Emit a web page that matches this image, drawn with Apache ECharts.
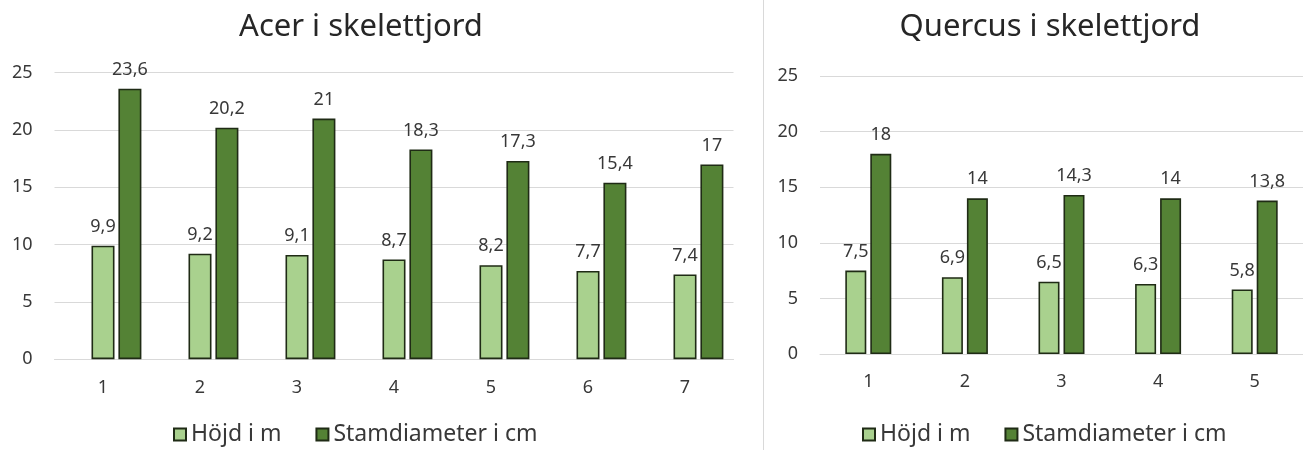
<!DOCTYPE html>
<html>
<head>
<meta charset="utf-8">
<script src="https://cdn.jsdelivr.net/npm/echarts@6/dist/echarts.min.js"></script>
<style>
    html, body { margin: 0; padding: 0; background: #fff; }
    #main { width: 1303px; height: 450px; }
</style>
</head>
<body>
<div id="main"></div>
<script>
// Acer i skelettjord
var acerCats = ['1', '2', '3', '4', '5', '6', '7'];
var acerHojd = [9.9, 9.2, 9.1, 8.7, 8.2, 7.7, 7.4];
var acerStam = [23.6, 20.2, 21, 18.3, 17.3, 15.4, 17];

// Quercus i skelettjord
var quercusCats = ['1', '2', '3', '4', '5'];
var quercusHojd = [7.5, 6.9, 6.5, 6.3, 5.8];
var quercusStam = [18, 14, 14.3, 14, 13.8];

var yTicks = { min: 0, max: 25, interval: 5 };
var seriesNames = ['Höjd i m', 'Stamdiameter i cm'];

var FONT = '"Noto Sans", sans-serif';
var lightGreen = '#a9d18e';
var darkGreen = '#548235';
var barBorder = '#1f2b15';
var gridColor = '#d9d9d9';
var textColor = '#383838';

function comma(p) {
    return String(p.value).replace('.', ',');
}

function barSeries(name, data, color, idx, width, gap) {
    return {
        name: name,
        type: 'bar',
        xAxisIndex: idx,
        yAxisIndex: idx,
        data: data,
        barWidth: width,
        barGap: gap,
        itemStyle: { color: color, borderColor: barBorder, borderWidth: 1.6 },
        label: {
            show: true,
            position: 'top',
            distance: 10,
            formatter: comma,
            fontFamily: FONT,
            fontSize: 18,
            color: textColor
        }
    };
}

function yAxisDef(idx) {
    return {
        type: 'value',
        gridIndex: idx,
        min: yTicks.min,
        max: yTicks.max,
        interval: yTicks.interval,
        axisLine: { show: false },
        axisTick: { show: false },
        splitLine: { lineStyle: { color: gridColor, width: 1 } },
        axisLabel: { fontFamily: FONT, fontSize: 18, color: textColor, margin: 22 }
    };
}

function xAxisDef(idx, cats, margin) {
    return {
        type: 'category',
        gridIndex: idx,
        data: cats,
        axisLine: { lineStyle: { color: gridColor, width: 1 } },
        axisTick: { show: false },
        axisLabel: { fontFamily: FONT, fontSize: 18, color: textColor, margin: margin }
    };
}

function legendDef(left) {
    return {
        data: seriesNames,
        left: left,
        top: 423,
        padding: 0,
        itemWidth: 12,
        itemHeight: 12,
        itemGap: 34,
        icon: 'rect',
        textStyle: { fontFamily: FONT, fontSize: 23, color: textColor }
    };
}

var myChart = echarts.init(document.getElementById('main'));

var option = {
    animation: false,
    backgroundColor: '#ffffff',
    title: [
        {
            text: 'Acer i skelettjord',
            left: 356,
            top: 7,
            textAlign: 'center',
            textStyle: { fontFamily: FONT, fontSize: 31, fontWeight: 'normal', color: '#262626' }
        },
        {
            text: 'Quercus i skelettjord',
            left: 1045,
            top: 7,
            textAlign: 'center',
            textStyle: { fontFamily: FONT, fontSize: 31, fontWeight: 'normal', color: '#262626' }
        }
    ],
    legend: [legendDef(173), legendDef(862)],
    grid: [
        { left: 54.5, top: 72.7, width: 679, height: 286.5 },
        { left: 820, top: 76, width: 486, height: 278 }
    ],
    xAxis: [xAxisDef(0, acerCats, 20), xAxisDef(1, quercusCats, 19)],
    yAxis: [yAxisDef(0), yAxisDef(1)],
    series: [
        // tom serie till vänster, så att staplarna i vänstra diagrammet hamnar som i originalet
        { name: '', type: 'bar', xAxisIndex: 0, yAxisIndex: 0, data: [], barWidth: 23, barGap: '17%' },
        barSeries(seriesNames[0], acerHojd, lightGreen, 0, 23, '17%'),
        barSeries(seriesNames[1], acerStam, darkGreen, 0, 23, '17%'),
        barSeries(seriesNames[0], quercusHojd, lightGreen, 1, 21, '19%'),
        barSeries(seriesNames[1], quercusStam, darkGreen, 1, 21, '19%')
    ],
    graphic: [
        {
            type: 'line',
            shape: { x1: 763.5, y1: 0, x2: 763.5, y2: 450 },
            style: { stroke: gridColor, lineWidth: 1 }
        }
    ]
};

myChart.setOption(option);
</script>
</body>
</html>
